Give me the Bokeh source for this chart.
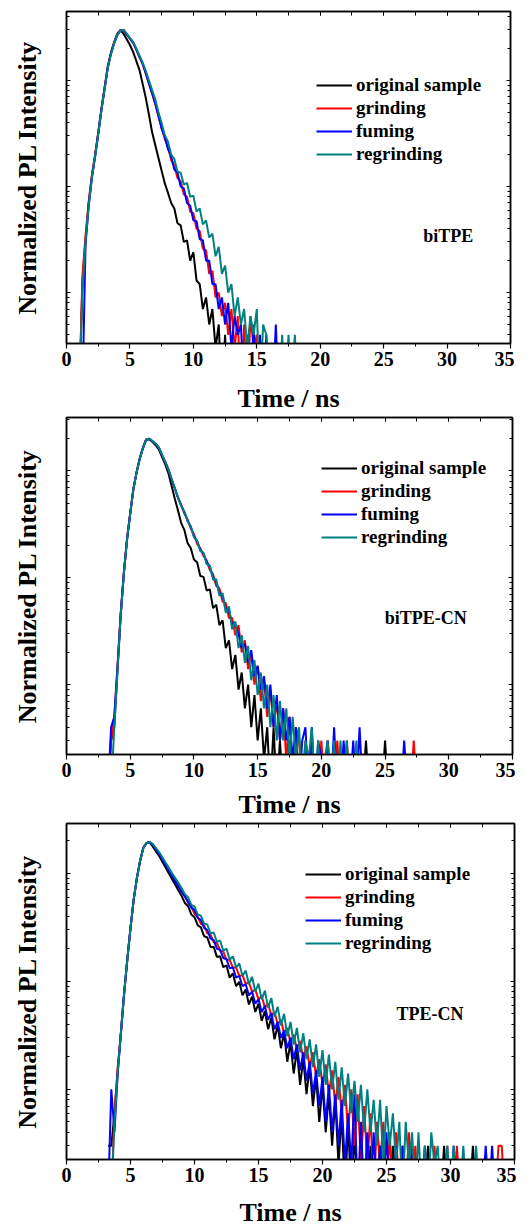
import numpy as np
from bokeh.plotting import figure
from bokeh.models import (Range1d, LinearAxis, LogAxis, FixedTicker, SingleIntervalTicker, Label,
                          CustomJSTickFormatter)
from bokeh.layouts import column
from bokeh.embed import file_html
from bokeh.resources import INLINE

FONT = "Liberation Serif"
SERIES = ["original sample", "grinding", "fuming", "regrinding"]
COLORS = ["#000000", "#FF0000", "#0000FF", "#008080"]
STEP = 0.25  # ns per channel of the read-off grid
X_LABEL = "Time / ns"
Y_LABEL = "Normalized PL Intensity"

# ---------------- panel 1 : biTPE (grid starts at 1.0 ns) ----------------
P1_T0 = 1.0
p1_original = [1, 12, 32, 70, 125, 195, 320, 540, 850, 1350, 1820, 2290, 2750, 3000, 2750, 2450,
               2160, 1860, 1530, 1260, 930, 685, 475, 324, 245, 186, 141, 107, 87, 70, 62, 45, 43,
               30, 31, 20, 24, 13, 12, 7, 9, 5, 7, 3, 5, 1, 4, 1]
p1_grinding = [1, 14, 34, 72, 128, 198, 318, 530, 840, 1330, 1800, 2260, 2700, 2960, 2980, 2700,
               2480, 2260, 1950, 1660, 1430, 1160, 930, 750, 596, 457, 360, 280, 238, 178, 158,
               120, 112, 84, 80, 58, 56, 40, 38, 26, 25, 15, 16, 9, 10, 6, 8, 4, 7, 3, 6, 1, 5, 1,
               6, 3, 4, 1]
p1_fuming = [1, 1, 28, 66, 120, 190, 310, 520, 830, 1310, 1780, 2240, 2680, 2940, 2990, 2720, 2490,
             2270, 1960, 1670, 1440, 1170, 940, 760, 605, 465, 350, 292, 226, 192, 145, 135, 100,
             96, 70, 66, 48, 47, 32, 31, 20, 20, 12, 12, 7, 9, 5, 8, 3, 6, 4, 5, 1, 4, 1, 5, 1, 4,
             1, 4, 1, 1, 5, 1]
p1_regrinding = [1, 10, 30, 66, 120, 190, 310, 520, 820, 1300, 1760, 2220, 2660, 2950, 3000, 2760,
                 2510, 2320, 2000, 1720, 1480, 1230, 1000, 810, 660, 500, 395, 305, 265, 200, 182,
                 138, 135, 104, 108, 80, 82, 58, 62, 44, 48, 33, 36, 22, 27, 15, 18, 10, 12, 6, 9,
                 5, 7, 3, 6, 4, 7, 1, 5, 4, 1, 1, 1, 1, 4, 1, 4, 1, 4, 1]

# ---------------- panel 2 : biTPE-CN (grid starts at 3.25 ns) ----------------
P2_T0 = 3.25
p2_original = [1, 3, 4, 14, 45, 111, 230, 400, 680, 970, 1310, 1640, 1970, 1980, 1860, 1740, 1580,
               1350, 1150, 950, 724, 550, 427, 325, 280, 212, 190, 148, 140, 104, 102, 76, 78, 52,
               56, 36, 40, 22, 26, 14, 19, 9, 13, 6, 10, 4, 8, 3, 6, 2, 4, 1, 4, 1, 3, 1, 1, 3, 1,
               1, 1, 1, 1, 1, 1, 1, 1, 1, 1, 1, 1, 1, 1, 1, 1, 1, 1, 1, 1, 1, 1,
               3, 1, 1, 1, 1, 1, 3, 1]
p2_grinding = [1, 3, 5, 15, 46, 112, 232, 402, 685, 975, 1315, 1645, 1975, 2000, 1895, 1790, 1650,
               1400, 1215, 1030, 835, 688, 560, 485, 400, 352, 290, 256, 208, 190, 160, 146, 118,
               108, 84, 80, 60, 58, 42, 42, 29, 36, 20, 26, 14, 19, 10, 15, 7, 11, 5, 9, 4, 7, 3,
               6, 2, 5, 1, 4, 3, 1, 3, 1, 3, 1, 1, 3, 1, 3, 1, 1, 3, 1, 1, 3,
               1, 1, 1, 1, 1, 1, 1, 1, 1, 1, 1, 1, 1, 1, 1, 1, 1, 1, 1, 1, 3, 1]
p2_fuming = [1, 4, 5, 14, 44, 110, 228, 398, 675, 965, 1305, 1635, 1965, 1990, 1890, 1785, 1645,
             1405, 1210, 1030, 838, 685, 566, 474, 412, 342, 300, 246, 220, 182, 168, 140, 127,
             101, 92, 72, 68, 51, 50, 36, 36, 30, 22, 24, 16, 21, 12, 15, 9, 12, 6, 10, 4, 8, 3,
             6, 3, 5, 2, 4, 1, 3, 4, 1, 4, 1, 3, 2, 1, 3, 1, 4, 1, 1, 3, 1, 1, 3, 1, 4, 1,
             1, 1, 1, 1, 1, 1, 1, 1, 1, 1, 1, 1, 3, 1]
p2_regrinding = [1, 1, 4, 13, 44, 108, 225, 395, 670, 960, 1300, 1630, 1960, 2010, 1900, 1800,
                 1660, 1410, 1220, 1035, 840, 690, 563, 470, 418, 338, 305, 240, 222, 178, 172,
                 134, 130, 96, 97, 68, 72, 47, 54, 33, 39, 22, 29, 16, 23, 11, 17, 8, 13, 6, 10, 4,
                 8, 3, 7, 3, 6, 2, 5, 2, 4, 1, 3, 2, 4, 1, 3, 1, 2, 3, 1, 3, 1, 3, 1, 3, 1, 1, 3, 1]

# ---------------- panel 3 : TPE-CN (grid starts at 3.25 ns) ----------------
P3_T0 = 3.25
p3_original = [3, 3, 6, 15, 34, 78, 160, 312, 575, 905, 1305, 1715, 1905, 1930, 1760, 1580, 1440,
               1270, 1130, 995, 880, 780, 690, 614, 530, 495, 415, 392, 330, 315, 262, 254, 208,
               208, 168, 170, 135, 140, 108, 118, 90, 99, 74, 84, 61, 72, 52, 62, 43, 53, 36, 46,
               29, 39, 24, 33, 18, 27, 14, 23, 11, 19, 9, 16, 7, 13, 5, 11, 4, 9, 3, 8, 2, 6, 1,
               5, 1, 4, 1, 3, 1, 1, 3, 1, 1, 3, 1, 1, 1, 3, 1, 1, 1, 1, 3, 1, 1, 1, 1, 1, 3, 1, 1,
               1, 1, 3, 1, 1, 1, 1, 1, 1, 1, 1, 3, 1, 1]
p3_grinding = [1, 1, 6, 16, 32, 75, 157, 309, 568, 898, 1298, 1708, 1898, 1948, 1840, 1670, 1520,
               1360, 1210, 1075, 955, 855, 765, 680, 612, 535, 490, 420, 395, 340, 328, 278, 270,
               230, 226, 192, 188, 158, 158, 134, 134, 112, 114, 95, 97, 80, 84, 68, 73, 57, 62,
               48, 52, 40, 44, 33, 37, 27, 32, 23, 28, 19, 25, 16, 22, 13, 19, 11, 17, 9, 15, 7,
               13, 6, 11, 4, 10, 3, 9, 2, 7, 2, 6, 1, 5, 2, 5, 1, 4, 1, 4, 1, 3, 1, 4, 1, 3, 1, 1,
               3, 1, 1, 3, 1, 1, 1, 3, 1, 1, 3, 1, 1, 1, 1, 1, 1, 1, 1, 1, 1, 1, 1, 3, 3, 1]
p3_fuming = [1, 10, 4, 14, 33, 77, 159, 311, 572, 902, 1302, 1712, 1902, 1945, 1820, 1650, 1500,
             1340, 1190, 1060, 945, 840, 750, 670, 605, 545, 480, 455, 385, 370, 312, 298, 248,
             240, 200, 196, 164, 160, 132, 134, 108, 112, 90, 94, 74, 80, 62, 68, 52, 59, 44, 51,
             36, 42, 30, 35, 24, 30, 19, 26, 15, 22, 12, 18, 9, 15, 7, 13, 5, 11, 4, 9, 3, 8, 2,
             6, 2, 9, 1, 5, 1, 4, 1, 4, 1, 3, 1, 4, 1, 1, 3, 1, 3, 1, 1, 3, 1, 1, 1, 3, 1, 1, 1,
             1, 1, 1, 1, 1, 3, 1, 1, 1, 1, 1, 1, 1, 1, 1, 3, 1, 3, 1, 1]
p3_regrinding = [1, 1, 5, 14, 33, 76, 158, 310, 570, 900, 1300, 1710, 1900, 1950, 1860, 1700, 1560,
                 1400, 1250, 1120, 1000, 900, 810, 725, 640, 600, 510, 490, 415, 405, 340, 335,
                 278, 282, 232, 238, 192, 200, 158, 170, 134, 146, 112, 126, 94, 110, 80, 95, 68,
                 82, 57, 70, 47, 58, 39, 50, 31, 42, 26, 37, 22, 33, 19, 29, 16, 26, 13, 23, 11,
                 21, 10, 18, 8, 16, 7, 14, 6, 12, 5, 11, 4, 10, 4, 8, 3, 8, 2, 7, 3, 6, 2, 5, 1, 5,
                 2, 4, 1, 4, 1, 3, 1, 4, 2, 3, 1, 1, 3, 1, 3, 1, 1, 3, 1, 1, 1, 3, 1]


def blank_formatter():
    return CustomJSTickFormatter(code="return '';")


def make_panel(series, t0, y_lo, y_hi, name, name_t, name_y, fw, fh, left, top, bottom,
               legend_xy, title_standoff):
    p = figure(frame_width=fw, frame_height=fh, x_range=Range1d(0, 35),
               y_range=Range1d(y_lo, y_hi), y_axis_type="log", output_backend="svg",
               toolbar_location=None, min_border_left=left, min_border_right=4,
               min_border_top=top, min_border_bottom=bottom)
    p.grid.visible = False
    p.outline_line_color = "black"
    p.outline_line_width = 1.5
    p.background_fill_color = "white"

    for vals, lab, col in zip(series, SERIES, COLORS):
        t = t0 + STEP * np.arange(len(vals))
        p.line(t, vals, line_color=col, line_width=2.0, legend_label=lab)

    decades = [1, 10, 100, 1000, 10000]
    minors = [m * d for d in decades for m in range(2, 10)]

    xa = p.below[0]
    xa.ticker = SingleIntervalTicker(interval=5, num_minor_ticks=2)
    xa.axis_label = X_LABEL
    xa.axis_label_text_font = FONT
    xa.axis_label_text_font_style = "bold"
    xa.axis_label_text_font_size = "26px"
    xa.axis_label_text_color = "black"
    xa.axis_label_standoff = title_standoff
    xa.major_label_text_font = FONT
    xa.major_label_text_font_style = "bold"
    xa.major_label_text_font_size = "20px"
    xa.major_label_text_color = "black"
    xa.major_label_standoff = 3
    xa.major_tick_in = 0
    xa.major_tick_out = 5
    xa.minor_tick_in = 0
    xa.minor_tick_out = 3
    xa.axis_line_width = 1.5
    xa.major_tick_line_width = 1.2

    ya = p.left[0]
    ya.ticker = FixedTicker(ticks=decades, minor_ticks=minors)
    ya.formatter = blank_formatter()
    ya.axis_label = Y_LABEL
    ya.axis_label_text_font = FONT
    ya.axis_label_text_font_style = "bold"
    ya.axis_label_text_font_size = "26px"
    ya.axis_label_text_color = "black"
    ya.axis_label_standoff = 25
    ya.major_label_standoff = 0
    ya.major_tick_in = 4
    ya.major_tick_out = 0
    ya.minor_tick_in = 3
    ya.minor_tick_out = 0
    ya.axis_line_width = 1.5

    ra = LogAxis(ticker=FixedTicker(ticks=decades, minor_ticks=minors),
                 formatter=blank_formatter(), major_label_standoff=0,
                 major_tick_in=4, major_tick_out=0, minor_tick_in=3, minor_tick_out=0,
                 axis_line_width=1.5)
    p.add_layout(ra, "right")
    ta = LinearAxis(ticker=SingleIntervalTicker(interval=5, num_minor_ticks=2),
                    formatter=blank_formatter(), major_label_standoff=0,
                    major_tick_in=4, major_tick_out=0, minor_tick_in=4, minor_tick_out=0,
                    axis_line_width=1.5)
    p.add_layout(ta, "above")

    p.add_layout(Label(x=name_t, y=name_y, text=name, text_align="center",
                       text_baseline="middle", text_font=FONT, text_font_style="bold",
                       text_font_size="18px", text_color="black"))

    lg = p.legend[0]
    lg.location = legend_xy
    lg.border_line_alpha = 0
    lg.background_fill_alpha = 0
    lg.label_text_font = FONT
    lg.label_text_font_style = "bold"
    lg.label_text_font_size = "19px"
    lg.label_text_color = "black"
    lg.glyph_width = 36
    lg.glyph_height = 20
    lg.label_height = 20
    lg.label_standoff = 4
    lg.spacing = 1
    lg.padding = 0
    lg.margin = 0
    return p


p1 = make_panel([p1_original, p1_grinding, p1_fuming, p1_regrinding], P1_T0, 3.31, 4467,
                "biTPE", 30.1, 34, 444, 332, 66, 11, 72, (250, 178), 15)
p2 = make_panel([p2_original, p2_grinding, p2_fuming, p2_regrinding], P2_T0, 2.22, 3162,
                "biTPE-CN", 28.2, 42, 446, 337, 65, 2, 65, (255, 206), 10)
p3 = make_panel([p3_original, p3_grinding, p3_fuming, p3_regrinding], P3_T0, 2.24, 2884,
                "TPE-CN", 28.4, 50, 448, 336, 64, 2, 60, (239, 205), 13)

layout = column(p1, p2, p3)
open("out.html", "w").write(file_html(layout, INLINE))
